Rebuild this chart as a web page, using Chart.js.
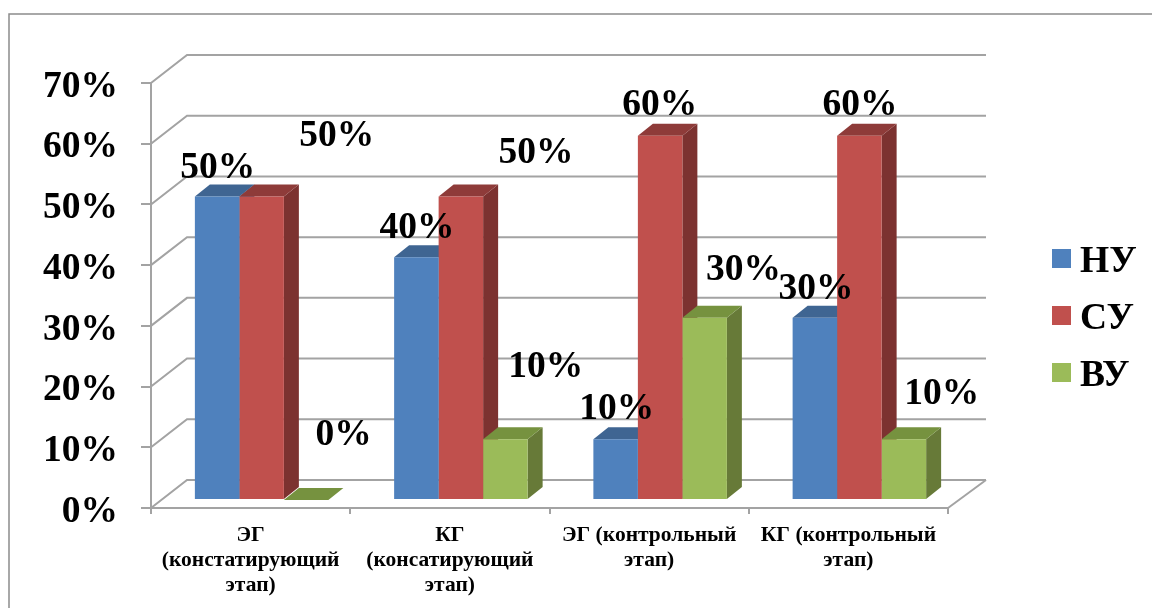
<!DOCTYPE html>
<html lang="ru">
<head>
<meta charset="utf-8">
<title>Chart</title>
<style>
  html, body { margin: 0; padding: 0; background: #fff; }
  canvas { display: block; }
</style>
<script src="https://cdn.jsdelivr.net/npm/chart.js@4"></script>
</head>
<body>
<canvas id="levelChart" width="1152" height="608"></canvas>
<script>
// Data
const categories = [
  ["ЭГ", "(констатирующий", "этап)"],
  ["КГ", "(консатирующий", "этап)"],
  ["ЭГ (контрольный", "этап)"],
  ["КГ (контрольный", "этап)"],
];
const seriesNames = ["НУ", "СУ", "ВУ"];
const nuValues = [50, 40, 10, 30];
const suValues = [50, 50, 60, 60];
const vuValues = [0, 10, 30, 10];

// Colours per series: front, top, side
const frontColors = ["#4F81BD", "#C0504D", "#9BBB59"];
const topColors = ["#3F6592", "#8E3B39", "#76923F"];
const sideColors = ["#3A5D87", "#7C3230", "#677A38"];
const gridColor = "#a3a3a3";
const labelFont = "bold 37.5px 'Liberation Serif'";

// The labels were moved by hand in the original, so keep the shifts per bar
const labelShifts = [
  [[11.5, -36], [11.5, -37], [12, -38], [12, -37]],
  [[86, -68], [86, -51], [10.5, -38], [11.5, -38]],
  [[48.5, -73], [51.5, -80], [50, -56], [49, -53]],
];

// Fake 3D: floor/wall depth and bar depth in pixels
const wallDx = 36, wallDy = 28;
const barShiftX = 11, barShiftY = 8;
const barDx = 15, barDy = 12;

function line(ctx, points) {
  ctx.beginPath();
  points.forEach((p, i) => (i ? ctx.lineTo(p[0], p[1]) : ctx.moveTo(p[0], p[1])));
  ctx.stroke();
}

function face(ctx, points, color) {
  ctx.fillStyle = color;
  ctx.beginPath();
  points.forEach((p, i) => (i ? ctx.lineTo(p[0], p[1]) : ctx.moveTo(p[0], p[1])));
  ctx.closePath();
  ctx.fill();
}

const depthPlugin = {
  id: "depth",
  beforeDraw(chart) {
    // outer frame, open on the right and at the bottom
    const ctx = chart.ctx;
    ctx.save();
    ctx.strokeStyle = "#8c8c8c";
    ctx.lineWidth = 1.5;
    line(ctx, [[9, 608], [9, 14], [1152, 14]]);
    ctx.restore();
  },
  beforeDatasetsDraw(chart) {
    const ctx = chart.ctx;
    const area = chart.chartArea;
    const y = chart.scales.y;

    ctx.save();
    ctx.strokeStyle = gridColor;
    ctx.lineWidth = 2;
    y.ticks.forEach((t) => {
      const py = y.getPixelForValue(t.value);
      line(ctx, [
        [area.left, py],
        [area.left + wallDx, py - wallDy],
        [area.right + wallDx + 2, py - wallDy],
      ]);
    });
    line(ctx, [
      [area.right, area.bottom],
      [area.right + wallDx + 2, area.bottom - wallDy],
    ]);

    // top and side of each bar go under the fronts
    ctx.translate(barShiftX, -barShiftY);
    chart.data.datasets.forEach((ds, i) => {
      chart.getDatasetMeta(i).data.forEach((bar) => {
        const left = bar.x - bar.width / 2;
        const right = bar.x + bar.width / 2;
        face(ctx, [
          [right, bar.y],
          [right + barDx, bar.y - barDy],
          [right + barDx, bar.base - barDy],
          [right, bar.base],
        ], sideColors[i]);
        face(ctx, [
          [left, bar.y],
          [left + barDx, bar.y - barDy],
          [right + barDx, bar.y - barDy],
          [right, bar.y],
        ], topColors[i]);
      });
    });
    // fronts are drawn by Chart.js inside this translate
  },
  afterDatasetsDraw(chart) {
    const ctx = chart.ctx;
    ctx.restore();

    ctx.save();
    ctx.font = labelFont;
    ctx.fillStyle = "#000";
    ctx.textAlign = "center";
    ctx.textBaseline = "middle";
    chart.data.datasets.forEach((ds, i) => {
      chart.getDatasetMeta(i).data.forEach((bar, j) => {
        const shift = labelShifts[i][j];
        ctx.fillText(ds.data[j] + "%", bar.x + shift[0], bar.y + shift[1]);
      });
    });

    // legend
    ctx.textAlign = "left";
    chart.data.datasets.forEach((ds, i) => {
      const top = 249 + i * 57;
      ctx.fillStyle = ds.backgroundColor;
      ctx.fillRect(1052, top, 19, 19);
      ctx.fillStyle = "#000";
      ctx.fillText(ds.label, 1080, top + 13);
    });
    ctx.restore();
  },
};

const valueSets = [nuValues, suValues, vuValues];

new Chart(document.getElementById("levelChart").getContext("2d"), {
  type: "bar",
  data: {
    labels: categories,
    datasets: seriesNames.map((name, i) => ({
      label: name,
      data: valueSets[i],
      backgroundColor: frontColors[i],
      categoryPercentage: 0.67,
      barPercentage: 1,
    })),
  },
  options: {
    responsive: false,
    animation: false,
    devicePixelRatio: 1,
    layout: { padding: { top: 83, right: 204 } },
    plugins: {
      legend: { display: false },
      tooltip: { enabled: false },
    },
    scales: {
      x: {
        afterFit(scale) { scale.height = 100; },
        grid: { drawOnChartArea: false, color: gridColor, lineWidth: 2, tickLength: 6 },
        border: { color: gridColor, width: 2 },
        ticks: {
          color: "#000",
          padding: 9,
          maxRotation: 0,
          autoSkip: false,
          font: { family: "Liberation Serif", size: 21.5, weight: "bold", lineHeight: 1.16 },
        },
      },
      y: {
        min: 0,
        max: 70,
        afterFit(scale) { scale.width = 151; },
        grid: { drawOnChartArea: false, color: gridColor, lineWidth: 2, tickLength: 10 },
        border: { color: gridColor, width: 2 },
        ticks: {
          stepSize: 10,
          color: "#000",
          padding: 23,
          labelOffset: 4,
          font: { family: "Liberation Serif", size: 37.5, weight: "bold" },
          callback: (v) => v + "%",
        },
      },
    },
  },
  plugins: [depthPlugin],
});
</script>
</body>
</html>
